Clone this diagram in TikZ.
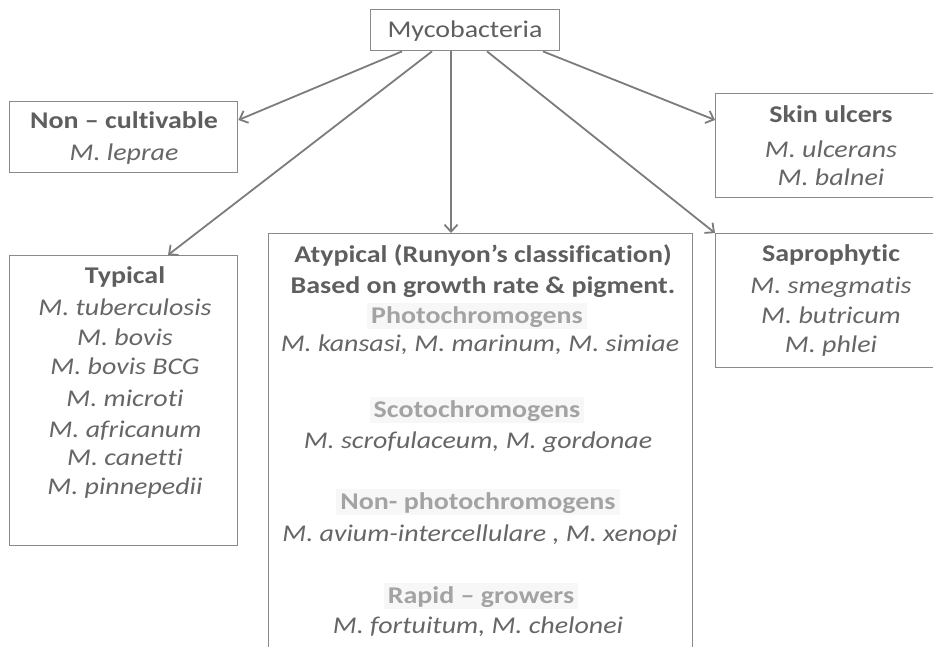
\documentclass[tikz,border=0pt]{standalone}
\usepackage{fontspec}
\setmainfont[FakeStretch=1.165,Ligatures=NoCommon]{Carlito}
\usetikzlibrary{arrows.meta}
\definecolor{boxline}{HTML}{8A8A8A}
\definecolor{arrowcol}{HTML}{7C7C7C}
\definecolor{headcol}{HTML}{5E5E5E}
\definecolor{itcol}{HTML}{666666}
\definecolor{subcol}{HTML}{A3A3A3}
\definecolor{subbg}{HTML}{F7F7F7}
\tikzset{
  frame/.style={draw=boxline, line width=1.4pt, anchor=north west, inner sep=0pt},
  ln/.style={font=\fontsize{24}{28}\selectfont, inner sep=0pt, text height=19.5pt, text depth=4pt, anchor=center},
  hd/.style={ln, text=headcol, font=\fontsize{24}{28}\selectfont\bfseries},
  it/.style={ln, text=itcol, font=\fontsize{24}{28}\selectfont\itshape},
  sub/.style={ln, text=subcol, font=\fontsize{24}{28}\selectfont\bfseries, fill=subbg, inner xsep=4pt, inner ysep=1pt},
  conn/.style={draw=arrowcol, line width=1.8pt, -{Straight Barb[length=7pt,width=13pt,line width=1.8pt]}}
}
\begin{document}
\begin{tikzpicture}[x=1pt,y=-1pt]
\useasboundingbox (0,0) rectangle (933,646);
\clip (0,0) rectangle (933,646);
% boxes
\node[frame, minimum width=189pt, minimum height=41pt] (myco) at (370,9) {};
\node[frame, minimum width=228pt, minimum height=71pt] (nc) at (9,101) {};
\node[frame, minimum width=230pt, minimum height=104pt] (skin) at (715,93) {};
\node[frame, minimum width=228pt, minimum height=290pt] (typ) at (9,255) {};
\node[frame, minimum width=424pt, minimum height=440pt] (aty) at (268,233) {};
\node[frame, minimum width=230pt, minimum height=134pt] (sap) at (715,233) {};
% texts
\node[ln, text=headcol] (t0) at (465,30) {Mycobacteria};
\node[hd] (t1) at (124,121) {Non – cultivable};
\node[it] (t2) at (124,153) {M. leprae};
\node[hd] (t3) at (831,115) {Skin ulcers};
\node[it] (t4) at (831,150) {M. ulcerans};
\node[it] (t5) at (831,178) {M. balnei};
\node[hd] (t6) at (125,276) {Typical};
\node[it] (t7) at (125,308) {M. tuberculosis};
\node[it] (t8) at (125,338) {M. bovis};
\node[it] (t9) at (125,367) {M. bovis BCG};
\node[it] (t10) at (125,399) {M. microti};
\node[it] (t11) at (125,430) {M. africanum};
\node[it] (t12) at (125,458) {M. canetti};
\node[it] (t13) at (125,487) {M. pinnepedii};
\node[hd] (t14) at (831,254) {Saprophytic};
\node[it] (t15) at (831,286) {M. smegmatis};
\node[it] (t16) at (831,316) {M. butricum};
\node[it] (t17) at (831,345) {M. phlei};
\node[hd] (a1) at (483,255) {Atypical (Runyon’s classification)};
\node[hd] (a2) at (483,286) {Based on growth rate \& pigment.};
\node[sub] (a3) at (477,316) {Photochromogens};
\node[it] (a4) at (480,344) {M. kansasi, M. marinum, M. simiae};
\node[sub] (a5) at (477,410) {Scotochromogens};
\node[it] (a6) at (478,441) {M. scrofulaceum, M. gordonae};
\node[sub] (a7) at (478,502) {Non- photochromogens};
\node[it] (a8) at (480,534) {M. avium-intercellulare , M. xenopi};
\node[sub] (a9) at (481,596) {Rapid – growers};
\node[it] (a10) at (478,626) {M. fortuitum, M. chelonei};
% connectors
\draw[conn] ([xshift=32pt]myco.south west) -- ([yshift=-19pt]nc.north east);
\draw[conn] ([xshift=62pt]myco.south west) -- ([xshift=159pt]typ.north west);
\draw[conn] ([xshift=81pt]myco.south west) -- ([xshift=183pt]aty.north west);
\draw[conn] ([xshift=117pt]myco.south west) -- (sap.north west);
\draw[conn] ([xshift=173pt]myco.south west) -- ([yshift=-27pt]skin.north west);
\end{tikzpicture}
\end{document}
